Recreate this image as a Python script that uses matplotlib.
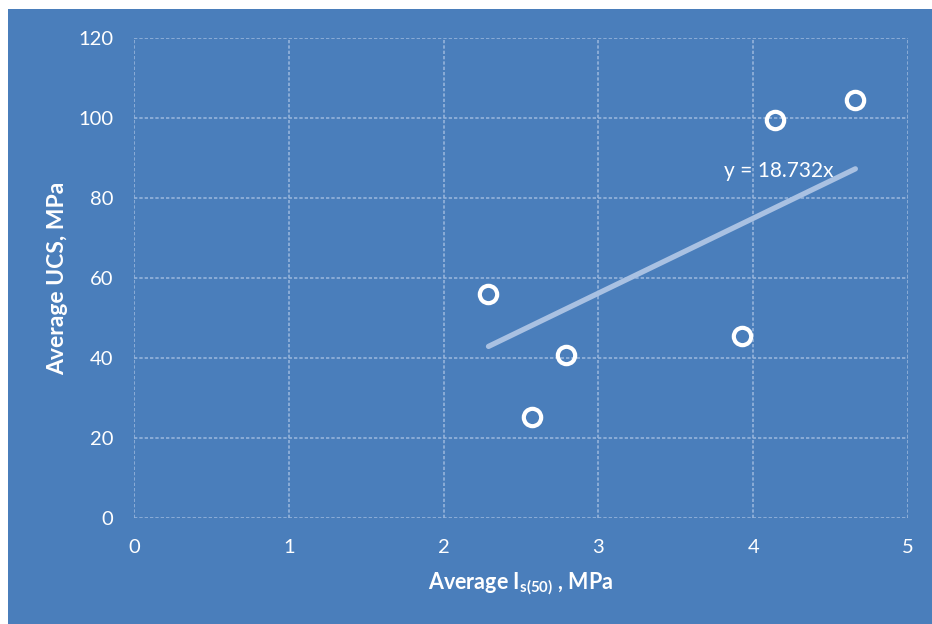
import matplotlib
matplotlib.use("Agg")
import matplotlib.pyplot as plt
import numpy as np
from matplotlib.patches import Rectangle

plt.rcParams['font.family'] = ['Lato', 'DejaVu Sans']
plt.rcParams['mathtext.fontset'] = 'custom'
plt.rcParams['mathtext.rm'] = 'Lato'
plt.rcParams['mathtext.bf'] = 'Lato:bold'
plt.rcParams['mathtext.it'] = 'Lato:italic'

# Average point-load strength index vs. average UCS
is50 = [2.29, 2.57, 2.79, 3.93, 4.14, 4.66]
ucs = [56.0, 25.3, 40.8, 45.5, 99.5, 104.5]
slope = 18.732
x_ticks = [0, 1, 2, 3, 4, 5]
y_ticks = [0, 20, 40, 60, 80, 100, 120]

bg = '#4a7ebb'
W, H = 932, 624
fig = plt.figure(figsize=(W / 100, H / 100), dpi=100, facecolor='white')
fig.add_artist(Rectangle((8 / W, 0), 1 - 8 / W, 1 - 9 / H, transform=fig.transFigure,
                         facecolor=bg, edgecolor='none', zorder=-10))

ax = fig.add_axes([134 / W, 1 - 518 / H, (908 - 134) / W, (518 - 38) / H])
ax.set_facecolor(bg)
ax.set_xlim(0, 5)
ax.set_ylim(0, 120)
ax.set_xticks(x_ticks)
ax.set_yticks(y_ticks)
ax.tick_params(length=0, colors='white', labelsize=14.5)
ax.tick_params(axis='y', pad=15)
ax.tick_params(axis='x', pad=15)
for s in ax.spines.values():
    s.set_visible(False)

grid_kw = dict(color='#95b3db', lw=1.2, ls=(0, (2, 1.2)), zorder=1)
for xv in x_ticks:
    ax.axvline(xv, **grid_kw)
for yv in y_ticks:
    ax.axhline(yv, **grid_kw)

# Linear trend through the origin
xt = np.array([min(is50), max(is50)])
ax.plot(xt, slope * xt, color='#a9c1e2', lw=3.8, solid_capstyle='round', zorder=2)
ax.text(3.81, 86.75, f'y = {slope}x', color='white', fontsize=15, va='center', ha='left', zorder=4)

ax.plot(is50, ucs, ls='none', marker='o', ms=12.5, mfc='none', mec='white', mew=3.0, zorder=3)

ax.set_xlabel(r'Average I$_{\mathbf{s(50)}}$ , MPa', color='white', fontsize=15.5,
              fontweight='bold', labelpad=11)
ax.set_ylabel('Average UCS, MPa', color='white', fontsize=16.5, fontweight='bold', labelpad=7)

fig.savefig('out.png', dpi=100, facecolor='white')
